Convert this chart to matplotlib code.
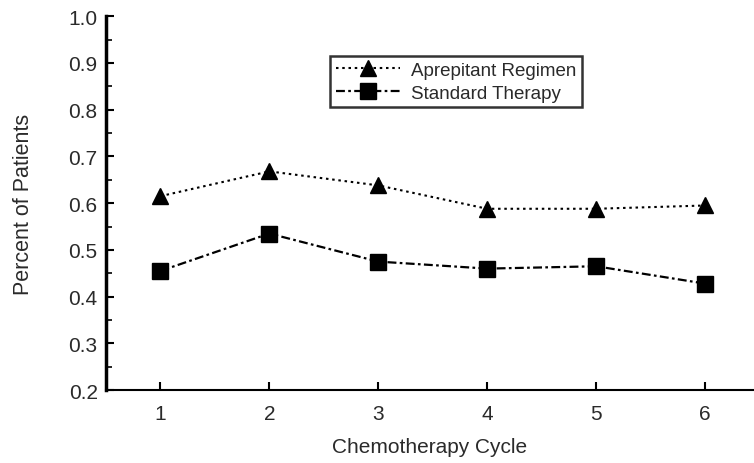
import matplotlib.pyplot as plt
from matplotlib import rcParams

rcParams['font.family'] = ['Liberation Sans', 'DejaVu Sans']

cycles = [1, 2, 3, 4, 5, 6]
aprepitant = [0.615, 0.668, 0.638, 0.588, 0.588, 0.595]
standard = [0.455, 0.535, 0.475, 0.46, 0.465, 0.428]
labels = ["Aprepitant Regimen", "Standard Therapy"]

fig = plt.figure(figsize=(7.54, 4.64), dpi=100)
ax = fig.add_axes([0.1406, 0.157, 0.8594, 0.806])

ax.plot(cycles, aprepitant, linestyle=(0, (1.2, 1.8)), color='black', lw=1.5,
        marker='^', markersize=11, label=labels[0])
ax.plot(cycles, standard, linestyle=(0, (4, 1.5, 1.2, 1.5)), color='black', lw=1.6,
        marker='s', markersize=11, label=labels[1])

ax.set_xlim(0.5, 6.45)
ax.set_ylim(0.2, 1.0)
ax.set_xticks(cycles)
ax.set_yticks([0.2, 0.3, 0.4, 0.5, 0.6, 0.7, 0.8, 0.9, 1.0])
ax.set_yticks([0.25, 0.35, 0.45, 0.55, 0.65, 0.75, 0.85, 0.95], minor=True)
ax.yaxis.set_major_formatter(plt.FuncFormatter(lambda v, p: f"{v:.1f}"))

ax.spines['top'].set_visible(False)
ax.spines['right'].set_visible(False)
ax.spines['left'].set_linewidth(2.5)
ax.spines['bottom'].set_linewidth(1.5)
ax.tick_params(axis='both', direction='in', colors='black', labelcolor='#2a2a2a',
               labelsize=15, width=1.5)
ax.tick_params(axis='y', which='major', length=6, pad=6)
ax.tick_params(axis='y', which='minor', length=4, width=1.2, direction='in')
ax.tick_params(axis='x', length=6, pad=10)

ax.set_xlabel("Chemotherapy Cycle", fontsize=15, color='#2a2a2a', labelpad=10)
ax.set_ylabel("Percent of Patients", fontsize=15.5, color='#2a2a2a', labelpad=25)

leg = ax.legend(loc='upper left', bbox_to_anchor=(0.346, 0.893), fontsize=13.5,
                frameon=True, fancybox=False, handlelength=3.4, borderpad=0.3,
                labelspacing=0.3, handletextpad=0.6, borderaxespad=0)
leg.get_frame().set_edgecolor('black')
leg.get_frame().set_linewidth(1.8)
for t in leg.get_texts():
    t.set_color('#2a2a2a')

fig.savefig("out.png", dpi=100)
